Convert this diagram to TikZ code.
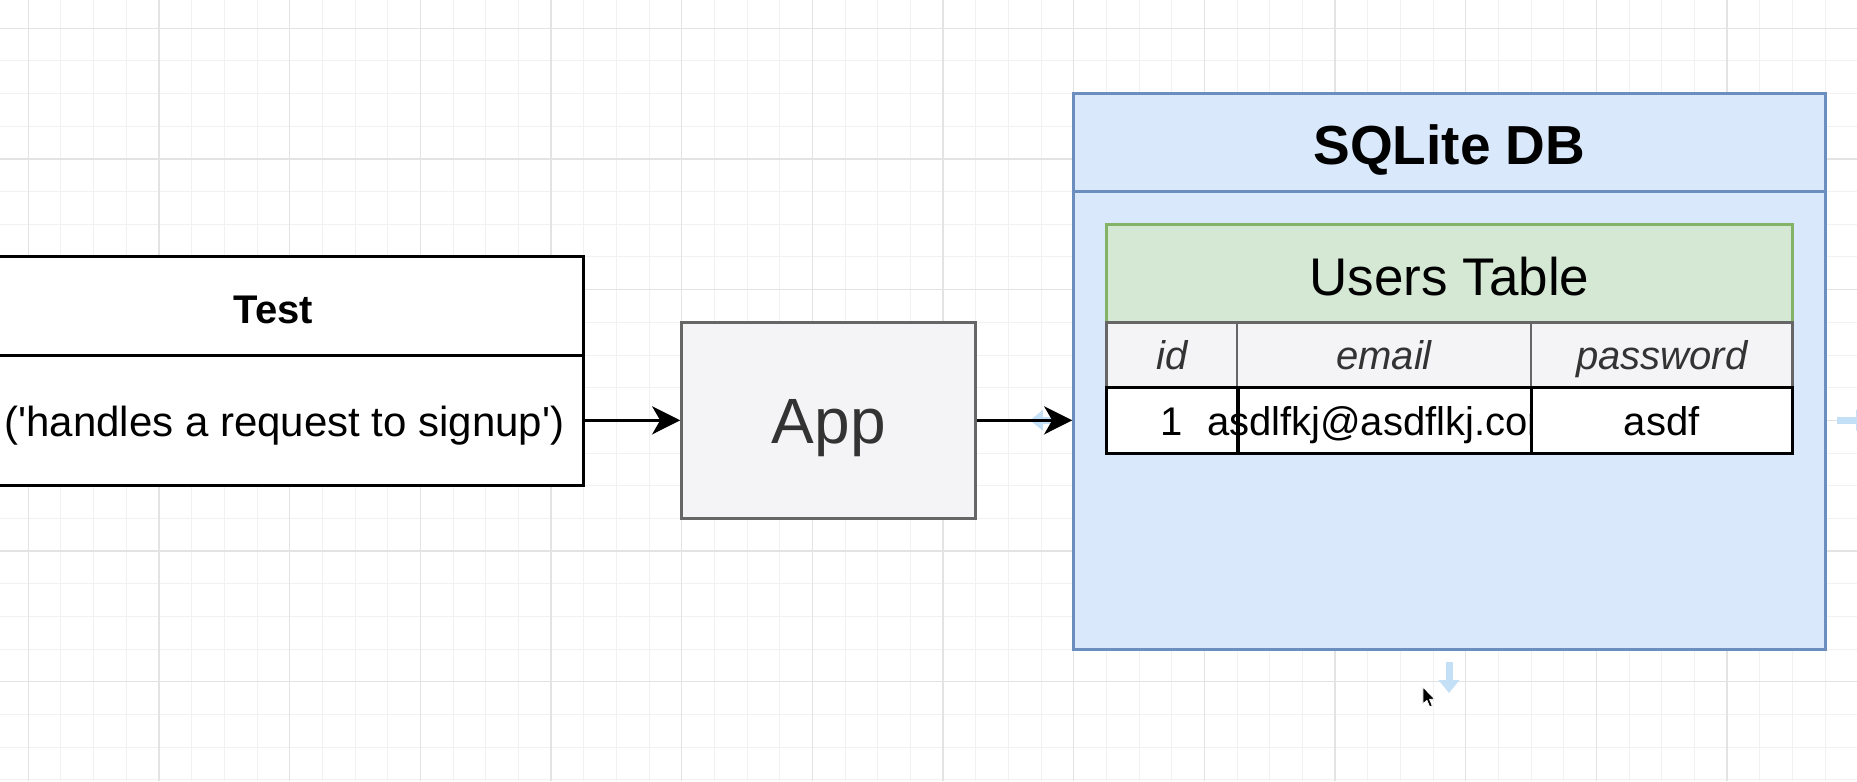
\documentclass[tikz,border=0pt]{standalone}
\usepackage{fontspec}
\setmainfont{Liberation Sans}
\usetikzlibrary{arrows.meta}
\definecolor{gridminor}{HTML}{F1F1F1}
\definecolor{gridmajor}{HTML}{E3E3E3}
\definecolor{dbfill}{HTML}{DAE8FC}
\definecolor{dbline}{HTML}{6C8EBF}
\definecolor{tblfill}{HTML}{D5E8D4}
\definecolor{tblline}{HTML}{82B366}
\definecolor{grayfill}{HTML}{F4F4F6}
\definecolor{grayline}{HTML}{666666}
\definecolor{graytext}{HTML}{333333}
\definecolor{hovercol}{HTML}{C4E0F6}
\newcommand\setfs[1]{\fontsize{#1}{#1}\selectfont}
\tikzset{
  gminor/.style={draw=gridminor, line width=1pt},
  gmajor/.style={draw=gridmajor, line width=1.6pt},
  blackbox/.style={draw=black, fill=white, line width=3pt, inner sep=0pt},
  graybox/.style={draw=grayline, fill=grayfill, line width=3pt, inner sep=0pt},
  dbbox/.style={draw=dbline, fill=dbfill, line width=3pt, inner sep=0pt},
  tblbox/.style={draw=tblline, fill=tblfill, line width=3pt, inner sep=0pt},
  hdrcell/.style={draw=grayline, fill=grayfill, line width=2.6pt, inner sep=0pt, minimum height=65.33pt},
  datacell/.style={draw=black, fill=white, line width=3pt, inner sep=0pt, minimum height=65.33pt},
  lbl/.style={anchor=base, inner sep=0pt},
  hdrtext/.style={lbl, font=\setfs{40}\itshape, text=graytext},
  conn/.style={draw=black, line width=3pt, -{Stealth[length=28pt, width=28pt, inset=8pt]}},
  hoverarrow/.style={draw=hovercol, line width=7pt, -{Triangle[length=13pt, width=20pt]}},
}
\begin{document}
\begin{tikzpicture}[x=32.667pt, y=-32.667pt]
\useasboundingbox (-0.8672,-0.8672) rectangle (55.979,23.041);
\fill[white] (-0.8672,-0.8672) rectangle (55.979,23.041);
% grid
\foreach \i in {0,...,55} \draw[gminor] (\i,-0.8672) -- (\i,23.041);
\foreach \j in {0,...,23} \draw[gminor] (-0.8672,\j) -- (55.979,\j);
\foreach \i in {0,4,...,52} \draw[gmajor] (\i,-0.8672) -- (\i,23.041);
\foreach \j in {0,4,...,20} \draw[gmajor] (-0.8672,\j) -- (55.979,\j);

% Test box
\node[blackbox, minimum width=620.67pt, minimum height=98pt] (testhead) at (7.5,8.5) {};
\node[blackbox, minimum width=620.67pt, minimum height=130.67pt] (testbody) at (7.5,12) {};
\node[lbl, font=\setfs{40}\bfseries] (testlabel) at (7.5,9.03) {Test};
\node[lbl, font=\setfs{42}] (testtext) at (7.84,12.50) {(\textquotesingle handles a request to signup\textquotesingle)};

% App
\node[graybox, minimum width=294pt, minimum height=196pt] (app) at (24.5,12) {};
\node[lbl, font=\setfs{64}, text=graytext] (applabel) at (24.5,12.72) {App};

% DB
\node[dbbox, minimum width=751.34pt, minimum height=555.34pt] (db) at (43.5,10.5) {};
\coordinate (dbdiv) at (43.5,5);
\draw[dbline, line width=3pt] (db.west |- dbdiv) -- (db.east |- dbdiv);
\node[lbl, font=\setfs{55}\bfseries] (dbtitle) at (43.5,4.18) {SQLite DB};

% Users table
\node[tblbox, minimum width=686pt, minimum height=98pt] (users) at (43.5,7.5) {};
\node[lbl, font=\setfs{53}] (userslabel) at (43.5,8.19) {Users Table};

\node[hdrcell, minimum width=130.67pt] (hid) at (35,10) {};
\node[hdrcell, minimum width=294pt] (hemail) at (41.5,10) {};
\node[hdrcell, minimum width=261.33pt] (hpass) at (50,10) {};
\node[hdrtext] (hidt) at (35,10.44) {id};
\node[hdrtext] (hemailt) at (41.5,10.44) {email};
\node[hdrtext] (hpasst) at (50,10.44) {password};

\node[datacell, minimum width=130.67pt] (did) at (35,12) {};
\node[datacell, minimum width=294pt] (demail) at (41.5,12) {};
\node[lbl, font=\setfs{40}] (demailt) at (41.5,12.45) {asdlfkj@asdflkj.com};
\draw[line width=3pt] (did.north east) -- (did.south east);
\node[datacell, minimum width=261.33pt] (dpass) at (50,12) {};
\node[lbl, font=\setfs{40}] (didt) at (35,12.45) {1};
\node[lbl, font=\setfs{40}] (dpasst) at (50,12.45) {asdf};

% hover hints
\coordinate (hl1) at (31.75,12);
\coordinate (hl2) at (30.66,12);
\draw[hoverarrow] (hl1) -- (hl2);
\coordinate (hr1) at (55.37,12);
\coordinate (hr2) at (56.35,12);
\draw[hoverarrow] (hr1) -- (hr2);
\coordinate (hd1) at (43.49,19.4);
\coordinate (hd2) at (43.49,20.35);
\draw[hoverarrow] (hd1) -- (hd2);

% connectors
\draw[conn] (testbody.east) -- (app.west);
\draw[conn] (app.east) -- (app.east -| db.west);

% mouse cursor
\begin{scope}[shift={(42.69,20.16)}, x=1pt, y=-1pt]
\filldraw[fill=black, draw=white, line width=0.8pt, line join=round]
  (0,0) -- (0,17) -- (4,13.5) -- (6.8,20) -- (9.4,18.9) -- (6.7,12.5) -- (11.8,12.3) -- cycle;
\end{scope}
\end{tikzpicture}
\end{document}
